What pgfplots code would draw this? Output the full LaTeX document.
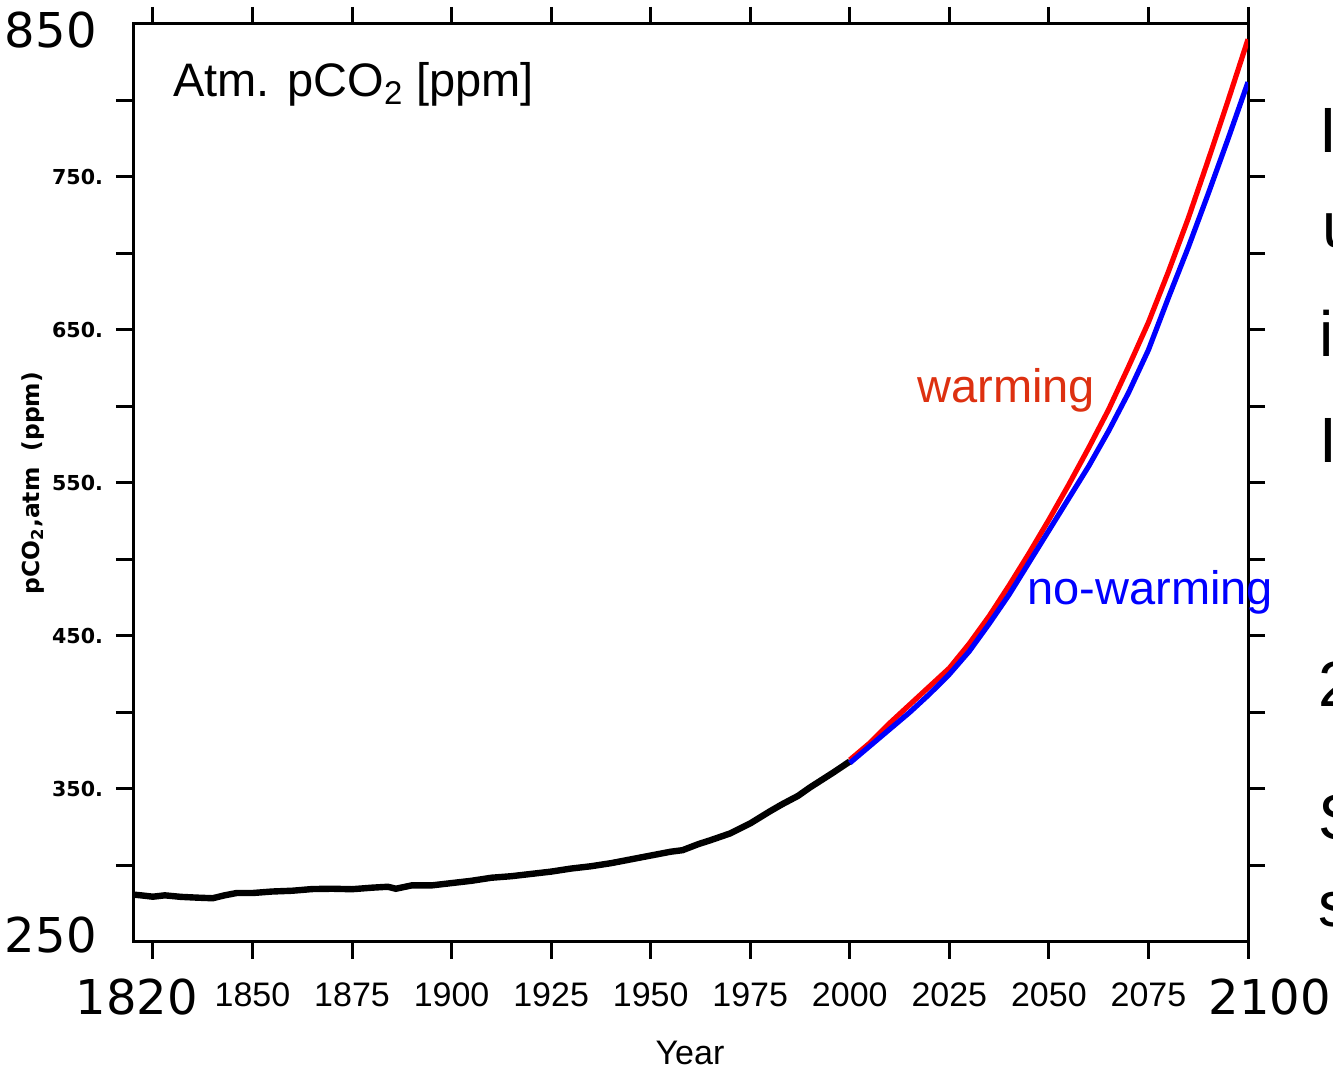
\documentclass[border=0pt]{standalone}
\usepackage{fontspec}
\setmainfont{Liberation Sans}
\newfontfamily\dejavu{DejaVu Sans}
\usepackage{pgfplots}
\pgfplotsset{compat=1.18}
\definecolor{warmred}{RGB}{221,48,16}
\begin{document}
\begin{tikzpicture}
\path[use as bounding box] (0,0) rectangle (666.5pt,535pt);
\begin{axis}[
  at={(66.5pt,64pt)}, anchor=south west,
  scale only axis, width=557.5pt, height=459pt,
  xmin=1820, xmax=2100, ymin=250, ymax=850,
  axis line style={line width=1.5pt},
  every tick/.style={black, line width=1.5pt},
  tick align=outside, major tick length=8.5pt,
  xtick={1825,1850,...,2100},
  xticklabels={,1850,1875,1900,1925,1950,1975,2000,2025,2050,2075,},
  ytick={300,350,...,800},
  yticklabels={,350.,,450.,,550.,,650.,,750.,},
  xticklabel style={font=\fontsize{17}{19}\selectfont, yshift=-8.5pt},
  yticklabel style={font=\dejavu\bfseries\fontsize{10.3}{12}\selectfont, xshift=-3pt},
]
\addplot[black, line width=3.2pt] coordinates {
(1820,281) (1822,280.5) (1825,279.6) (1828,280.5) (1832,279.5) (1836,279) (1840,278.6)
(1843,280.5) (1846,282) (1850,282) (1855,283) (1860,283.5) (1865,284.6) (1870,284.8)
(1875,284.5) (1880,285.5) (1884,286.1) (1886,284.8) (1890,287) (1895,287) (1900,288.5)
(1905,290) (1910,292) (1915,293) (1920,294.5) (1925,296) (1930,298) (1935,299.5)
(1940,301.5) (1945,304) (1950,306.5) (1955,309) (1958,310) (1962,314) (1965,316.5)
(1970,321) (1975,327.5) (1980,335.5) (1983,340) (1987,345.5) (1990,351) (1993,356)
(1996,361) (2000,368)};
\addplot[red, line width=2.6pt] coordinates {
(2000,369) (2005,380) (2010,393) (2015,405) (2020,417) (2025,429) (2030,445)
(2035,463) (2040,483) (2045,504) (2050,526) (2055,549) (2060,573) (2065,598)
(2070,626) (2075,655) (2080,688) (2085,723) (2090,761) (2095,800) (2100,840)};
\addplot[blue, line width=2.6pt] coordinates {
(2000,367) (2005,378) (2010,389) (2015,400) (2020,412) (2025,425) (2030,440)
(2035,458) (2040,477) (2045,498) (2050,519) (2055,540) (2060,561) (2065,584)
(2070,609) (2075,637) (2080,671) (2085,704) (2090,739) (2095,775) (2100,812)};
\end{axis}
% corner labels
\node[anchor=east, inner sep=0pt, font=\dejavu\fontsize{24}{28}\selectfont] at (48.5pt,520pt) {850};
\node[anchor=east, inner sep=0pt, font=\dejavu\fontsize{24}{28}\selectfont] at (48.5pt,67.5pt) {250};
\node[inner sep=0pt, font=\dejavu\fontsize{24}{28}\selectfont] at (68.5pt,36.5pt) {1820};
\node[inner sep=0pt, font=\dejavu\fontsize{24}{28}\selectfont] at (635pt,36.5pt) {2100};
% axis titles
\node[inner sep=0pt, font=\fontsize{17}{20}\selectfont] at (345pt,8.5pt) {Year};
\node[inner sep=0pt, rotate=90, font=\dejavu\bfseries\fontsize{11.7}{14}\selectfont] at (16.5pt,293.5pt) {pCO\textsubscript{2},atm\ \ (ppm)};
\node[anchor=base west, inner sep=0pt, font=\fontsize{23.5}{28}\selectfont] at (86.5pt,486.5pt) {Atm. pCO\textsubscript{2} [ppm]};
\node[anchor=base west, inner sep=0pt, text=warmred, font=\fontsize{23.5}{28}\selectfont] at (458.5pt,333.5pt) {warming};
\node[anchor=base west, inner sep=0pt, text=blue, font=\fontsize{23.5}{28}\selectfont] at (513.5pt,232.5pt) {no-warming};
% cut-off slide text at the right edge (cut off in the reference as well)
\begin{scope}[every node/.style={anchor=base west, inner sep=0pt, font=\fontsize{32}{36}\selectfont}]
\node at (659.5pt,458.5pt) {I};
\node at (661pt,411pt) {u};
\node at (659.5pt,356.5pt) {i};
\node at (659.5pt,303.5pt) {I};
\node at (659pt,181.5pt) {2};
\node at (659pt,115pt) {S};
\node at (659pt,71.5pt) {s};
\end{scope}
\end{tikzpicture}
\end{document}
